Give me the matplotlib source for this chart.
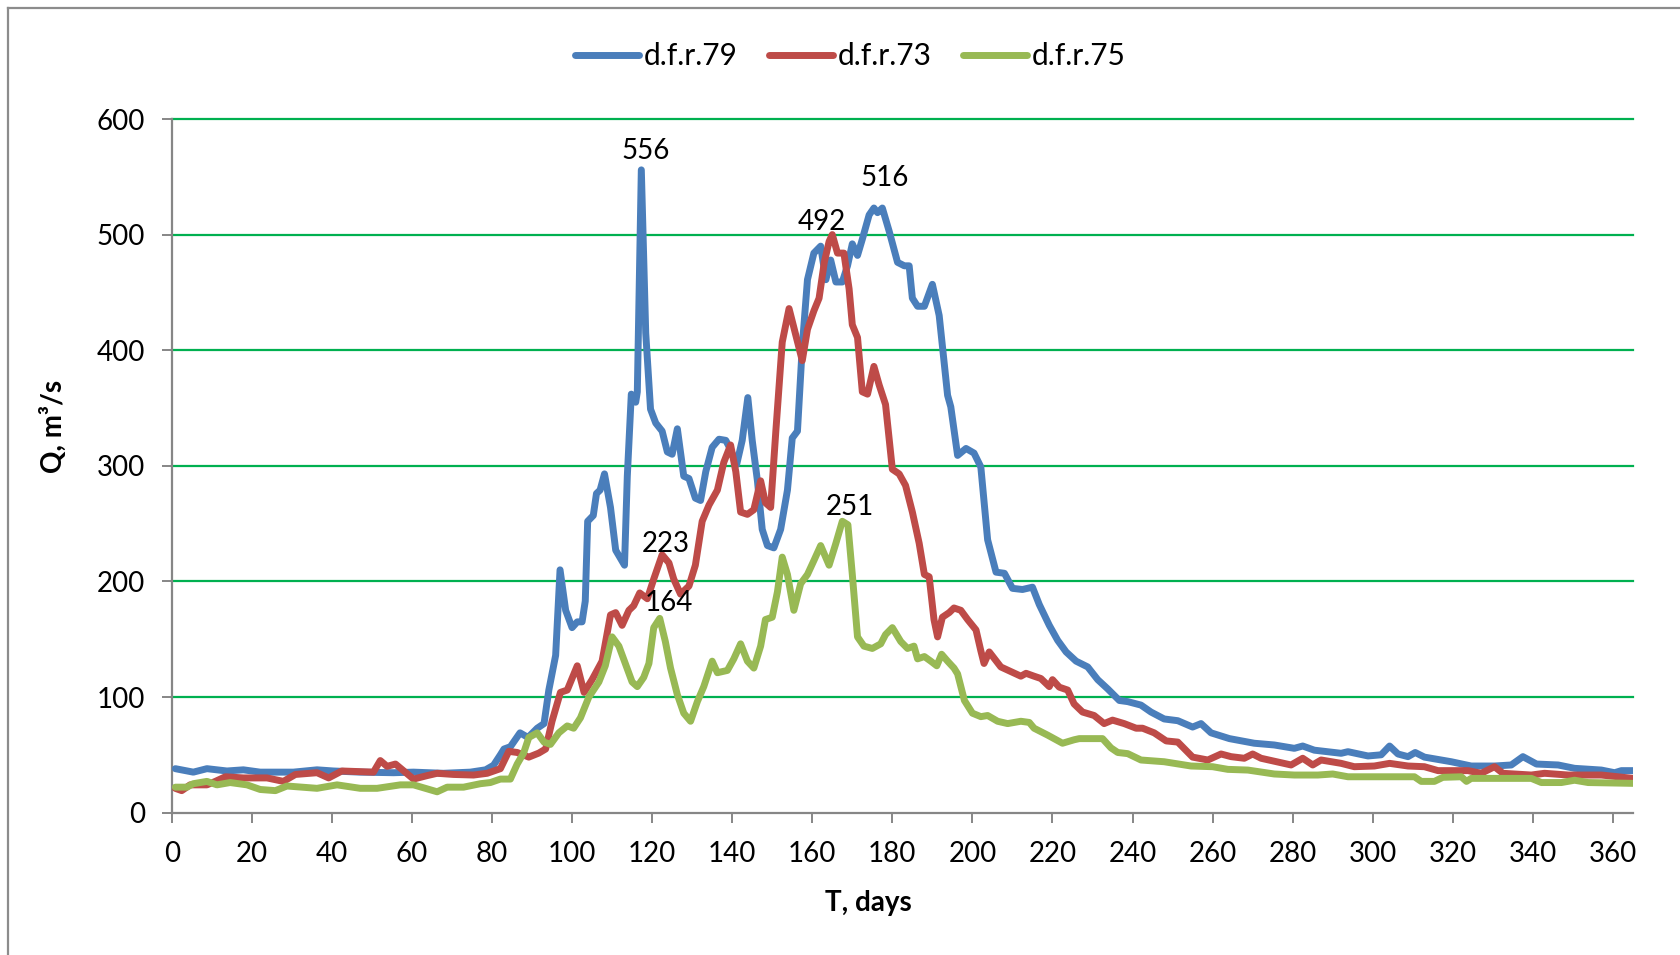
import matplotlib
matplotlib.use("Agg")
import matplotlib.pyplot as plt
from matplotlib.lines import Line2D

plt.rcParams["font.family"] = ["Lato", "DejaVu Sans"]

# d.f.r.79 (blue)
days_79 = [0.9, 5.4, 8.8, 13.8, 17.9, 22.1, 30.4, 36.3, 40.4, 47.1, 55.4, 60.4, 67.9, 74.6, 78.4,
           80.4, 82.1, 83, 84.6, 87, 89, 91.3, 93, 94.2, 95.9, 97, 98.4, 100, 101.3, 102.5, 103.3,
           103.9, 105.3, 106.1, 107, 108.1, 109.6, 110.9, 112.1, 113.1, 113.8, 114.8, 115.9, 116.3,
           117.3, 118.4, 119.6, 120.9, 122.5, 123.8, 125, 126.3, 127.9, 129.2, 130.8, 132.1, 133.4,
           135, 136.7, 138.4, 139.6, 141.1, 142.5, 143.9, 145, 146.3, 147.5, 148.8, 150.4, 152.1,
           153.8, 155, 156.3, 157.5, 158.8, 160.4, 162.1, 163.4, 164.6, 165.9, 167.5, 168.8, 170,
           171.3, 172.5, 174.2, 175.4, 176.3, 177.5, 179.2, 181.3, 183, 184.2, 185, 186.3, 188, 190,
           191.7, 193.8, 194.6, 196.3, 198.4, 200.4, 202.1, 203.8, 205.9, 208, 210, 212.5, 215,
           216.7, 219.2, 221.3, 223.4, 225.9, 228.8, 231.3, 233.8, 236.7, 238.8, 242.1, 244.6,
           247.9, 251.3, 255, 257.1, 259.6, 264.2, 270.4, 275.4, 280.4, 282.5, 285.4, 292.1, 293.8,
           298.8, 302.1, 304.2, 306.3, 308.8, 310.6, 312.9, 319.6, 324.6, 330.4, 334.6, 337.5,
           340.9, 346.3, 350.4, 357.1, 360.4, 362.1, 365]
q_79 = [38, 35, 38, 36, 37, 35, 35, 37, 36, 35, 34.5, 35, 34, 35, 37,
        41, 50, 55, 57, 69, 65, 73, 77, 106, 136, 210, 175, 160, 165, 165, 183,
        252, 257, 276, 279, 293, 264, 227, 220, 214, 291, 362, 355, 364,
        556, 415, 349, 337, 330, 312, 310, 332, 291, 289, 272, 270, 295,
        316, 323, 322, 314, 301, 322, 359, 322, 287, 245, 231, 229, 245,
        279, 324, 330, 403, 461, 484, 490, 461, 478, 459, 459, 473, 492,
        482, 496, 517, 523, 519, 523, 503, 476, 473, 473, 445, 438, 438, 457,
        430, 361, 351, 309, 315, 311, 299, 236, 208, 207, 194, 193, 195,
        180, 162, 149, 139, 131, 126, 115, 107, 97, 96, 93, 87,
        81, 79.5, 74, 77, 69, 64, 60, 58.5, 55.6, 57.6, 54, 51.3, 52.7,
        49, 50, 57.6, 50.7, 48.4, 52, 48, 44, 40.3, 40.3, 41.2, 48.4,
        42, 41.2, 38.3, 36.8, 34.5, 36.3, 36.3]

# d.f.r.73 (red)
days_73 = [0.9, 2.5, 4.6, 8.8, 10.9, 13.4, 17.9, 23.8, 27.9, 30.9, 36.3, 39.2, 42.5, 50.4, 52.1,
           53.8, 55.9, 60.4, 63.8, 66.3, 70.4, 75.4, 78.8, 81.3, 82.1, 84.2, 86.3, 89.2, 91.7,
           93.4, 95, 97.1, 98.8, 101.3, 103, 105, 107.5, 109.6, 110.9, 112.5, 114.2, 115.4, 116.9,
           118.8, 120.4, 122.5, 124.2, 125.4, 127.1, 129.2, 130.8, 132.5, 134.2, 136.3, 137.9,
           139.6, 140.9, 142.1, 143.8, 145.4, 147.1, 148.3, 149.6, 150.9, 152.5, 154.2, 155.9,
           157.5, 158.8, 160.4, 161.7, 163, 164.2, 165, 166.3, 167.9, 169.2, 170, 171.3, 172.5,
           173.8, 175.4, 176.7, 178.3, 180, 181.7, 183.3, 185, 186.7, 188, 189.2, 190.4, 191.3,
           192.5, 194.2, 195.4, 197.1, 198.8, 200.9, 202.1, 202.9, 204.2, 207.1, 209.6, 212.1,
           213.4, 215.4, 217.1, 219.2, 220, 221.7, 223.8, 225.4, 227.5, 230.4, 232.9, 235, 237.9,
           240.9, 242.5, 245.4, 248.4, 251.3, 255, 258.8, 262.1, 264.6, 267.9, 270, 272.1, 279.6,
           282.5, 285, 287.1, 292.1, 295.4, 300.4, 304.2, 308.8, 312.9, 316.3, 323.8, 327.1,
           330.4, 332.5, 339.6, 342.9, 348.8, 357.1, 365]
q_73 = [21, 19, 24, 24, 27, 31, 30, 30, 27, 33, 34.5, 30, 36, 35, 45,
        40, 42, 29, 32, 34, 33, 32.5, 34, 37, 38, 53, 52, 48, 51.5,
        55, 79, 104, 106, 127, 104, 115, 131, 171, 173, 162, 175, 179, 190,
        185, 202, 223, 216, 202, 189, 196, 214, 252, 266, 279, 303,
        318, 295, 260, 258, 262, 287, 268, 264, 330, 407, 436, 413,
        391, 418, 434, 445, 476, 494, 500, 484, 484, 453, 422, 411, 364,
        362, 386, 370, 353, 297, 293, 283, 260, 233, 206, 204, 167, 152,
        169, 173, 177, 175, 167, 158, 140, 129, 139, 126, 122, 118,
        120.5, 118, 116, 109, 115, 108.5, 106, 94, 87, 84, 77, 80, 77,
        73, 73, 69, 62, 61, 48, 45.5, 50.7, 48.4, 47, 50.7, 47, 41.2,
        47, 41.2, 45.5, 42.6, 39.7, 40.3, 42.6, 40.3, 39.7, 36.3, 36.3, 34,
        39.7, 34, 32.5, 34, 32.5, 32.5, 29.6]

# d.f.r.75 (green)
days_75 = [0.9, 3.8, 5.4, 8.8, 11.3, 14.6, 18.8, 22.1, 25.9, 28.8, 36.3, 41.3, 47.1, 51.3, 57.1,
           60.4, 66.3, 68.8, 72.9, 77.1, 79.6, 82.1, 84.6, 86.3, 87.9, 89.2, 91.3, 93, 94.6, 96.7,
           98.8, 100.4, 102.1, 104.2, 106.7, 108.3, 110, 111.7, 113.3, 115, 116.3, 117.9, 119.2,
           120.4, 121.9, 123.3, 124.6, 126.3, 127.9, 129.6, 131.3, 132.9, 135, 136.3, 138.8,
           140.4, 142.1, 143.8, 145.4, 147.1, 148.3, 150, 151.3, 152.5, 153.8, 155.4, 157.1,
           158.8, 160.4, 162.1, 164.2, 165.9, 167.5, 168.9, 170, 171.3, 172.9, 175, 177.1, 178.3,
           180, 182.1, 183.8, 185.4, 186.3, 188, 189.6, 191.1, 192.3, 193.8, 195.4, 196.3, 198,
           200, 202.1, 203.8, 206.3, 208.8, 212.1, 214.2, 215.4, 218.8, 222.5, 225.4, 226.7,
           232.5, 234.6, 236.3, 238.8, 242.1, 247.9, 254.6, 260, 263.8, 268.8, 275.4, 280.4,
           286.3, 290, 293.8, 310.4, 312.1, 315.4, 317.5, 322.1, 323.4, 324.6, 339.6, 342.1,
           347.1, 350.4, 353.8, 365]
q_75 = [22, 22, 25, 27, 24, 26, 24, 20, 19, 23, 21, 24, 21, 21, 24,
        24, 18, 22, 22, 25, 26, 29, 29, 42, 51.5, 65, 69, 61, 59, 69,
        75, 73, 82, 100, 113, 127, 152, 144, 129, 113, 109, 117, 129,
        160, 168, 148, 125, 102, 86, 79, 96, 109, 131, 121, 123,
        133, 146, 131, 125, 144, 167, 169, 191, 221, 206, 175, 198,
        206, 218, 231, 214, 233, 252, 249, 206, 152, 144, 142, 146, 154,
        160, 148, 142, 144, 133, 135, 131, 127, 137, 131, 125, 120, 97,
        86, 83, 84, 79, 77, 79, 78, 73, 67, 60, 63, 64,
        64, 56, 52, 51, 45.5, 44, 40.3, 39.7, 37.4, 36.8, 33.4, 32.5,
        32.5, 33.4, 31, 31, 27, 27, 30.5, 31, 27, 29.6, 29.6, 26,
        26, 28, 26, 25.3]

# peak labels: (day, value shown)
label_days = [118.5, 123.5, 124.3, 162.4, 169.3, 178.2]
label_vals = [556, 223, 164, 492, 251, 516]
label_dy = [19, 11, 20, 22, 15, 38]  # pixel offset of text centre above the level

BLUE = "#4A7EBB"
RED = "#BE4B48"
GREEN = "#98B954"
GRID = "#00B050"
AXIS_GRAY = "#868686"
FS = 20

fig = plt.figure(figsize=(16.81, 9.55), dpi=100)
ax = fig.add_axes([0.10214, 0.14911, 0.86931, 0.72628])

line_kw = dict(linewidth=5.0, solid_joinstyle="round", solid_capstyle="round", zorder=3)
ax.plot(days_79, q_79, color=BLUE, label="d.f.r.79", **line_kw)
ax.plot(days_73, q_73, color=RED, label="d.f.r.73", **line_kw)
ax.plot(days_75, q_75, color=GREEN, label="d.f.r.75", **line_kw)

for d, v, dy in zip(label_days, label_vals, label_dy):
    ax.annotate(str(v), xy=(d, v), xytext=(0, dy), textcoords="offset pixels",
                ha="center", va="center", fontsize=FS, zorder=4)

ax.set_xlim(0, 365)
ax.set_ylim(0, 600)
ax.set_xticks(range(0, 361, 20))
ax.set_yticks(range(0, 601, 100))
for y in range(100, 601, 100):
    ax.axhline(y, color=GRID, linewidth=1.6, zorder=1, clip_on=False)

for s in ["top", "right"]:
    ax.spines[s].set_visible(False)
for s in ["left", "bottom"]:
    ax.spines[s].set_color(AXIS_GRAY)
    ax.spines[s].set_linewidth(1.6)
ax.tick_params(axis="both", direction="out", length=7.2, width=1.4, color=AXIS_GRAY,
               labelsize=FS, labelcolor="black")
ax.tick_params(axis="x", pad=13)
ax.tick_params(axis="y", pad=12)

fig.text(868.7 / 1681, 1 - 902.6 / 955, "T, days", ha="center", va="center",
         fontsize=FS, fontweight="bold")
fig.text(53.6 / 1681, 1 - 426.6 / 955, "Q, m³/s", ha="center", va="center",
         fontsize=FS, fontweight="bold", rotation=90)

leg = fig.legend(loc="center", bbox_to_anchor=(850 / 1681, 1 - 56 / 955), ncol=3,
                 frameon=False, fontsize=21.5, handlelength=2.15, handletextpad=0.15,
                 columnspacing=1.05, borderpad=0)
for h in leg.get_lines():
    h.set_linewidth(5.0)

# chart area border (only top and left edges fall inside the image)
fig.add_artist(Line2D([8.5 / 1681, 8.5 / 1681], [0, 1 - 8.5 / 955], color="#8C8C8C",
                      linewidth=1.6, transform=fig.transFigure))
fig.add_artist(Line2D([8.5 / 1681, 1], [1 - 8.5 / 955, 1 - 8.5 / 955], color="#8C8C8C",
                      linewidth=1.6, transform=fig.transFigure))

fig.savefig("out.png", dpi=100)
